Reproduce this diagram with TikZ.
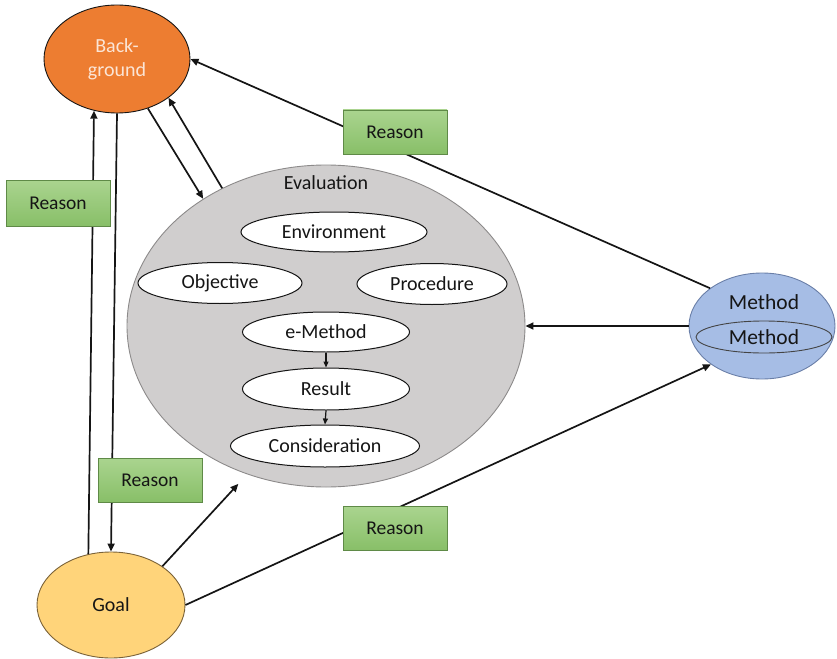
\documentclass[tikz,border=0pt]{standalone}
\usepackage{fontspec}
\setmainfont{Carlito}
\usetikzlibrary{shapes.geometric,arrows.meta}

\definecolor{bgorange}{HTML}{ED7D31}
\definecolor{bgtext}{HTML}{FBE5D6}
\definecolor{evalgray}{HTML}{D0CECE}
\definecolor{evaledge}{HTML}{8C8A8A}
\definecolor{goalyellow}{HTML}{FFD47A}
\definecolor{goaledge}{HTML}{7A6238}
\definecolor{methblue}{HTML}{A6BDE5}
\definecolor{methedge}{HTML}{6A7FA8}
\definecolor{reasontop}{HTML}{AAD48F}
\definecolor{reasonbot}{HTML}{88BF68}
\definecolor{reasonedge}{HTML}{5F8A47}
\definecolor{ink}{HTML}{151515}

\tikzset{
  txt/.style={font=\fontsize{20}{24}\selectfont, text=ink},
  ell/.style={ellipse, inner sep=0pt, line width=0.9pt, txt},
  item/.style={ell, draw=ink, fill=white, line width=1pt},
  reasonbox/.style={rectangle, draw=reasonedge, line width=0.9pt,
    top color=reasontop, bottom color=reasonbot,
    minimum width=104pt, minimum height=44pt,
    font=\fontsize{19.5}{22}\selectfont, text=ink},
  conn/.style={draw=ink, line width=1.7pt, -{Triangle[length=8pt,width=7pt]}},
  small/.style={draw=ink, line width=1.2pt, -{Triangle[length=6pt,width=5pt]}}
}

\begin{document}
\begin{tikzpicture}[x=1pt,y=-1pt]
\useasboundingbox (0,0) rectangle (837,658);

% main ellipses
\node[ell, draw=ink, fill=bgorange, minimum width=146pt, minimum height=108pt,
      text=bgtext, align=center] (bg) at (117,59) {Back-\\ground};
\node[ell, draw=evaledge, fill=evalgray, minimum width=398pt, minimum height=322pt] (eval) at (326,326) {};
\node[txt] (evaltitle) at (326,183) {Evaluation};
\node[ell, draw=goaledge, fill=goalyellow, minimum width=148pt, minimum height=106pt] (goal) at (111,605) {Goal};
\node[ell, draw=methedge, fill=methblue, minimum width=146pt, minimum height=106pt] (method) at (762,326) {};
\node[txt, font=\fontsize{21.5}{24}\selectfont] (methtitle) at (764,302) {Method};
\node[ell, draw=ink!80, fill=methblue, minimum width=136pt, minimum height=32pt,
      font=\fontsize{21.5}{24}\selectfont] (methinner) at (764,337) {Method};

% evaluation items
\node[item, minimum width=186pt, minimum height=40pt] (env) at (334,232) {Environment};
\node[item, minimum width=164pt, minimum height=41pt] (obj) at (220,283) {Objective};
\node[item, minimum width=150pt, minimum height=41pt] (proc) at (432,284) {Procedure};
\node[item, minimum width=167pt, minimum height=40pt] (emeth) at (326,332) {e-Method};
\node[item, minimum width=167pt, minimum height=42pt] (res) at (326,389) {Result};
\node[item, minimum width=189pt, minimum height=42pt] (cons) at (325,446) {Consideration};

\draw[small] (emeth.south) -- (res.north);
\draw[small] (res.south) -- (cons.north);

% connectors
\draw[conn] (method.144) -- (bg.east);
\draw[conn] (method.west) -- (eval.east);
\draw[conn] (goal.east) -- (method.-143);
\draw[conn, shorten >=13pt] (goal.37) -- (eval.-118);
\draw[conn] (goal.114) -- (bg.-114);
\draw[conn] (bg.south) -- (goal.north);
\draw[conn] (bg.-58) -- (eval.134);
\draw[conn] (eval.127) -- (bg.-37);

% reason labels laid over the connectors
\node[reasonbox] (r1) at (395,132) {Reason};
\node[reasonbox, minimum height=46pt] (r2) at (58,203) {Reason};
\node[reasonbox] (r3) at (150,480) {Reason};
\node[reasonbox] (r4) at (395,528) {Reason};
\end{tikzpicture}
\end{document}
